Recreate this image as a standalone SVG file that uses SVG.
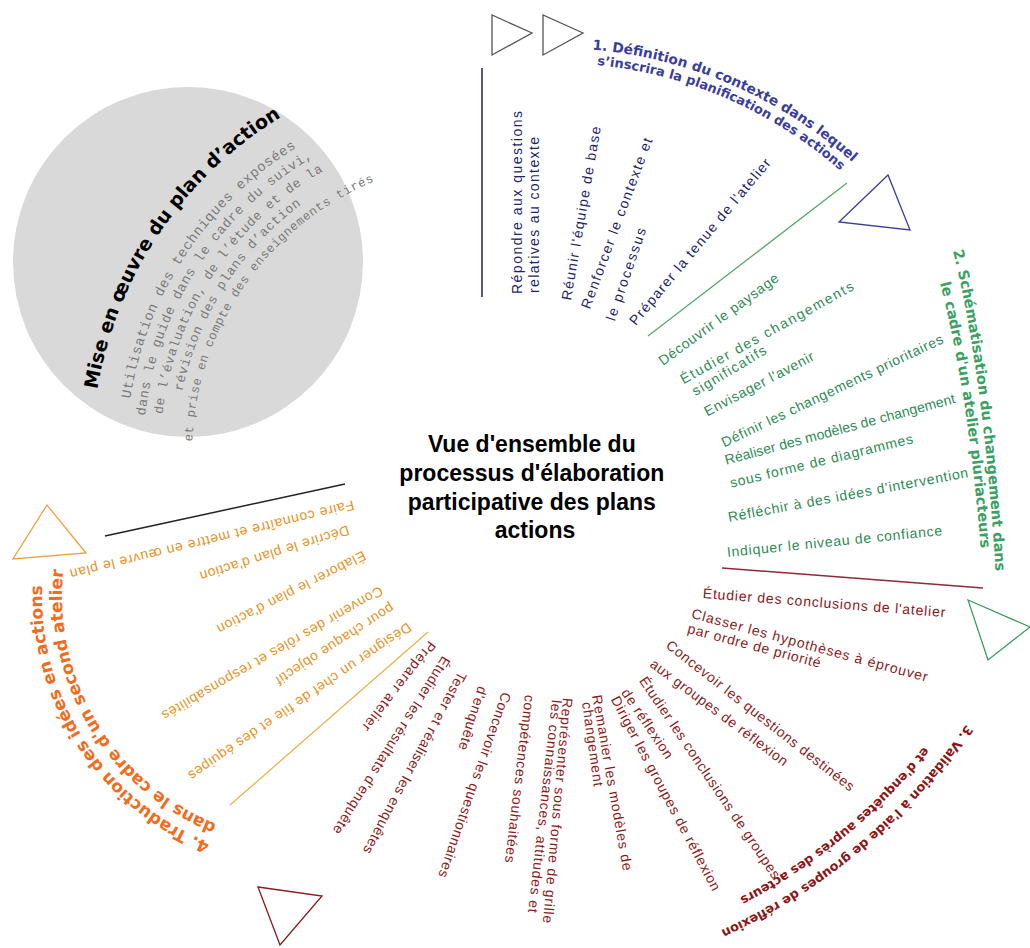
<svg xmlns="http://www.w3.org/2000/svg" width="1030" height="948" viewBox="0 0 1030 948">
<style>
.it{font-family:"Liberation Sans",Arial,sans-serif;font-size:14px;dominant-baseline:central}
.b{fill:#1f1f6b}.g{fill:#2e8b57}.r{fill:#8b1a1a}.o{fill:#e8921e}
.hd{font-family:"DejaVu Sans",Verdana,sans-serif;font-weight:bold}
.mono{font-family:"Liberation Mono","Courier New",monospace;fill:#7a7a7a;letter-spacing:0.6px}
.tri{fill:#fff;stroke-width:1.3}
</style>
<defs>
<path id="pB1" d="M592.2,49.6 A447,447 0 0 1 941,271.5"/>
<path id="pB2" d="M597,65 A432,432 0 0 1 935,290"/>
<path id="pG1" d="M953,251 Q985,380 997,595"/>
<path id="pG2" d="M940,283 Q970,400 982,565"/>
<path id="pR1" d="M966.1,724.6 A594,594 0 0 1 579.1,974"/>
<path id="pR2" d="M923.8,746.5 A573,573 0 0 1 575.5,953.3"/>
<path id="pO1" d="M210.3,842.7 A265,265 0 0 1 58,505.4"/>
<path id="pO2" d="M216.8,823.8 A245,245 0 0 1 76.8,512.2"/>
<path id="pT" d="M107.3,562.9 A395,395 0 0 1 445.7,61.2"/>
<path id="pM1" d="M140,553.5 A361,361 0 0 1 449.3,95"/>
<path id="pM2" d="M156.3,548.8 A344,344 0 0 1 451.1,111.9"/>
<path id="pM3" d="M172.7,544.1 A327,327 0 0 1 452.8,128.8"/>
<path id="pM4" d="M188,539.7 A311,311 0 0 1 454.5,144.7"/>
<path id="pM5" d="M203.4,535.3 A295,295 0 0 1 456.2,160.6"/>
</defs>

<g id="implementation">
<circle cx="188" cy="262" r="175" fill="#d9d9d9"/>
<text class="hd" font-size="19" fill="#000"><textPath href="#pT" startOffset="50%" text-anchor="middle">Mise en œuvre du plan d’action</textPath></text>
<text class="mono" font-size="13.8"><textPath href="#pM1" startOffset="49.5%" text-anchor="middle">Utilisation des techniques exposées</textPath></text>
<text class="mono" font-size="13.4"><textPath href="#pM2" startOffset="49%" text-anchor="middle">dans le guide dans le cadre du suivi,</textPath></text>
<text class="mono" font-size="13"><textPath href="#pM3" startOffset="49.5%" text-anchor="middle">de l’évaluation, de l’étude et de la</textPath></text>
<text class="mono" font-size="13"><textPath href="#pM4" startOffset="48.5%" text-anchor="middle">révision des plans d’action</textPath></text>
<text class="mono" font-size="12.3"><textPath href="#pM5" startOffset="51%" text-anchor="middle">et prise en compte des enseignements tirés</textPath></text>
</g>

<g id="center">
<text font-family="'Liberation Sans',Arial,sans-serif" font-weight="bold" font-size="23" fill="#000" text-anchor="middle">
<tspan x="535" y="452">Vue d'ensemble du</tspan>
<tspan x="535" y="481">processus d'élaboration</tspan>
<tspan x="535" y="510">participative des plans</tspan>
<tspan x="535" y="538">actions</tspan>
</text>
</g>

<g id="connectors" fill="none">
<line x1="482" y1="68" x2="482" y2="297" stroke="#1f1f6b" stroke-width="1.5"/>
<line x1="648" y1="336" x2="847" y2="183" stroke="#5aa86a" stroke-width="1.3"/>
<line x1="722" y1="568" x2="983" y2="588" stroke="#8b2a3a" stroke-width="1.5"/>
<line x1="230" y1="805" x2="428" y2="632" stroke="#f0b050" stroke-width="1.3"/>
<line x1="105" y1="536" x2="345" y2="484" stroke="#222" stroke-width="1.5"/>
</g>

<g id="markers">
<polygon class="tri" points="492,15 492,55 532,33" stroke="#555"/>
<polygon class="tri" points="543,15 543,55 583,33" stroke="#555"/>
<polygon class="tri" points="888,175 839,222 910,230" stroke="#3b3d9c"/>
<polygon class="tri" points="968,600 1030,627 988,660" stroke="#3a9d5d"/>
<polygon class="tri" points="258,887 322,896 280,945" stroke="#8b1a1a"/>
<polygon class="tri" points="47,505 13,559 86,553" stroke="#f0a040"/>
</g>

<g id="stage1">
<text class="hd" font-size="13.8" fill="#3b3d9c"><textPath href="#pB1">1. Définition du contexte dans lequel</textPath></text>
<text class="hd" font-size="13" fill="#3b3d9c"><textPath href="#pB2">s’inscrira la planification des actions</textPath></text>
<text class="it b" transform="translate(517,294) rotate(-90)" textLength="183" lengthAdjust="spacing">Répondre aux questions</text>
<text class="it b" transform="translate(534,293) rotate(-90)" textLength="156" lengthAdjust="spacing">relatives au contexte</text>
<text class="it b" transform="translate(566,300) rotate(-80.2)" textLength="176" lengthAdjust="spacing">Réunir l'équipe de base</text>
<text class="it b" transform="translate(585,308) rotate(-69.7)" textLength="181" lengthAdjust="spacing">Renforcer le contexte et</text>
<text class="it b" transform="translate(610,320) rotate(-71)" textLength="97" lengthAdjust="spacing">le processus</text>
<text class="it b" transform="translate(632,323) rotate(-50.2)" textLength="212" lengthAdjust="spacing">Préparer la tenue de l'atelier</text>
</g>

<g id="stage2">
<text class="hd" font-size="14.5" fill="#3aa064"><textPath href="#pG1">2. Schématisation du changement dans</textPath></text>
<text class="hd" font-size="14.5" fill="#3aa064"><textPath href="#pG2">le cadre d'un atelier pluriacteurs</textPath></text>
<text class="it g" transform="translate(660,362) rotate(-36.3)" textLength="145" lengthAdjust="spacing">Découvrir le paysage</text>
<text class="it g" transform="translate(681,380) rotate(-29)" textLength="196" lengthAdjust="spacing">Étudier des changements</text>
<text class="it g" transform="translate(693,392) rotate(-31)" textLength="84" lengthAdjust="spacing">significatifs</text>
<text class="it g" transform="translate(705,412) rotate(-27.8)" textLength="122" lengthAdjust="spacing">Envisager l'avenir</text>
<text class="it g" transform="translate(722,443) rotate(-25.5)" textLength="244" lengthAdjust="spacing">Définir les changements prioritaires</text>
<text class="it g" transform="translate(725,460) rotate(-15.1)" textLength="238" lengthAdjust="spacing">Réaliser des modèles de changement</text>
<text class="it g" transform="translate(730,483) rotate(-13.8)" textLength="188" lengthAdjust="spacing">sous forme de diagrammes</text>
<text class="it g" transform="translate(728,517) rotate(-10.6)" textLength="244" lengthAdjust="spacing">Réfléchir à des idées d'intervention</text>
<text class="it g" transform="translate(727,552) rotate(-5.8)" textLength="216" lengthAdjust="spacing">Indiquer le niveau de confiance</text>
</g>

<g id="stage3">
<text class="hd" font-size="12.8" fill="#8c1515"><textPath href="#pR1">3. Validation à l'aide de groupes de réflexion</textPath></text>
<text class="hd" font-size="12.7" fill="#8c1515"><textPath href="#pR2">et d'enquêtes auprès des acteurs</textPath></text>
<text class="it r" transform="translate(703,593) rotate(4.5)" textLength="243" lengthAdjust="spacing">Étudier des conclusions de l'atelier</text>
<text class="it r" transform="translate(692,613) rotate(15.2)" textLength="244" lengthAdjust="spacing">Classer les hypothèses à éprouver</text>
<text class="it r" transform="translate(688,628) rotate(14.8)" textLength="137" lengthAdjust="spacing">par ordre de priorité</text>
<text class="it r" transform="translate(668,643) rotate(38.1)" textLength="235" lengthAdjust="spacing">Concevoir les questions destinées</text>
<text class="it r" transform="translate(652,662) rotate(36.8)" textLength="168" lengthAdjust="spacing">aux groupes de réflexion</text>
<text class="it r" transform="translate(643,678) rotate(56)" textLength="240" lengthAdjust="spacing">Étudier les conclusions de groupes</text>
<text class="it r" transform="translate(625,690) rotate(56)" textLength="81" lengthAdjust="spacing">de réflexion</text>
<text class="it r" transform="translate(615,697) rotate(62.1)" textLength="218" lengthAdjust="spacing">Diriger les groupes de réflexion</text>
<text class="it r" transform="translate(597,695) rotate(80)" textLength="178" lengthAdjust="spacing">Remanier les modèles de</text>
<text class="it r" transform="translate(587,702) rotate(82)" textLength="85" lengthAdjust="spacing">changement</text>
<text class="it r" transform="translate(568,698) rotate(95.1)" textLength="226" lengthAdjust="spacing">Représenter sous forme de grille</text>
<text class="it r" transform="translate(557,700) rotate(96.4)" textLength="214" lengthAdjust="spacing">les connaissances, attitudes et</text>
<text class="it r" transform="translate(530,695) rotate(96.8)" textLength="169" lengthAdjust="spacing">compétences souhaitées</text>
<text class="it r" transform="translate(507,693) rotate(109.2)" textLength="195" lengthAdjust="spacing">Concevoir les questionnaires</text>
<text class="it r" transform="translate(483,687) rotate(107.6)" textLength="66" lengthAdjust="spacing">d'enquête</text>
<text class="it r" transform="translate(463,673) rotate(118)" textLength="204" lengthAdjust="spacing">Tester et réaliser les enquêtes</text>
<text class="it r" transform="translate(447,658) rotate(122.2)" textLength="207" lengthAdjust="spacing">Étudier les résultats d'enquête</text>
<text class="it r" transform="translate(433,643) rotate(128)" textLength="110" lengthAdjust="spacing">Préparer atelier</text>
</g>

<g id="stage4">
<text class="hd" font-size="17" fill="#f26c1e"><textPath href="#pO1">4. Traduction des idées en actions</textPath></text>
<text class="hd" font-size="17" fill="#f26c1e"><textPath href="#pO2">dans le cadre d'un second atelier</textPath></text>
<text class="it o" transform="translate(354,505) rotate(166.2)" textLength="292" lengthAdjust="spacing">Faire connaître et mettre en œuvre le plan</text>
<text class="it o" transform="translate(349,530) rotate(162.5)" textLength="156" lengthAdjust="spacing">Décrire le plan d'action</text>
<text class="it o" transform="translate(365,555) rotate(152.9)" textLength="165" lengthAdjust="spacing">Élaborer le plan d'action</text>
<text class="it o" transform="translate(382,590) rotate(149.9)" textLength="253" lengthAdjust="spacing">Convenir des rôles et responsabilités</text>
<text class="it o" transform="translate(393,607) rotate(147.1)" textLength="138" lengthAdjust="spacing">pour chaque objectif</text>
<text class="it o" transform="translate(410,626) rotate(145.5)" textLength="267" lengthAdjust="spacing">Désigner un chef de file et des équipes</text>
</g>
</svg>
